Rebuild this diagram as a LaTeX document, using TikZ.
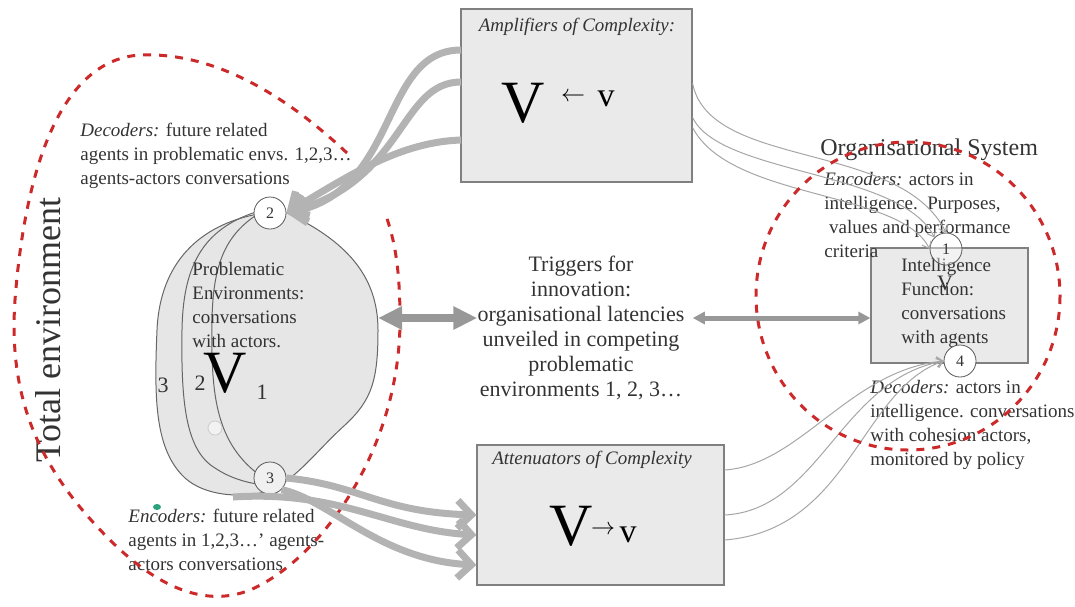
\documentclass[tikz,border=0pt]{standalone}
\usepackage{fontspec}
\setmainfont{Liberation Serif}
\usepackage{xcolor}
\usepackage{tikz}
\usetikzlibrary{arrows.meta}
\definecolor{boxfill}{HTML}{EAEAEA}
\definecolor{blobfill}{HTML}{E6E6E6}
\definecolor{boxline}{HTML}{808080}
\definecolor{flow}{HTML}{B3B3B3}
\definecolor{envred}{HTML}{CC2A2A}
\definecolor{inkgray}{HTML}{333333}
\definecolor{dotgreen}{HTML}{2BA37F}
\newcommand{\fs}[1]{\fontsize{#1}{#1}\selectfont}

\begin{document}
\begin{tikzpicture}[x=0.5pt,y=-0.5pt,
    txt/.style={inner sep=0pt,align=left,text=inkgray,font=\fontsize{9.5}{12}\selectfont},
    cbox/.style={draw=boxline,fill=boxfill,line width=0.6pt},
    numc/.style={circle,draw=black!65,fill=white,minimum size=16pt,inner sep=0pt,text=inkgray,font=\fs{8}},
    envline/.style={draw=envred,line width=1.5pt,dash pattern=on 4pt off 4pt},
    blobline/.style={draw=black!60,line width=0.5pt},
    thickflow/.style={draw=flow,line width=3.5pt,-{Straight Barb[length=7pt,width=14pt]}},
    thinflow/.style={draw=black!35,line width=0.5pt,-{Straight Barb[length=3pt,width=5pt]}}]
\useasboundingbox (0,0) rectangle (1075,606);

\filldraw[fill=blobfill,blobline] (258,214) .. controls (200,225) and (160,262) .. (157,330)
  .. controls (154,400) and (155,450) .. (185,478) .. controls (205,496) and (240,498) .. (265,492)
  .. controls (295,482) and (315,452) .. (345,425) .. controls (372,400) and (378,380) .. (378,330)
  .. controls (378,275) and (345,240) .. (285,212) -- cycle;
\draw[blobline] (256,212) .. controls (200,230) and (183,270) .. (182,330)
  .. controls (181,400) and (185,450) .. (215,468) .. controls (230,478) and (245,482) .. (257,484);
\draw[blobline] (258,214) .. controls (225,235) and (213,265) .. (212,320)
  .. controls (211,390) and (214,440) .. (258,474);
\draw[draw=black!20,fill=blobfill!50!white] (215,428) circle[radius=7];

\node[txt,anchor=north west] (probenv) at (192,262) {Problematic\\Environments:\\conversations\\with actors.};
\node[inner sep=0pt,font=\fs{30}] (bigV) at (225,373) {V};
\node[text=inkgray,font=\fs{11}] (lobe3) at (163,385) {3};
\node[text=inkgray,font=\fs{11}] (lobe2) at (200,383) {2};
\node[text=inkgray,font=\fs{11}] (lobe1) at (262,392) {1};
\node[numc] (c2) at (270,213) {2};
\node[numc,fill=blobfill!60!white] (c3) at (270,478) {3};

\node[txt,anchor=north west] (pdec) at (80,123) {\textit{Decoders:} future related\\agents in problematic envs. 1,2,3…\\agents-actors conversations};
\node[txt,anchor=north west] (penc) at (128,509) {\textit{Encoders:} future related\\agents in 1,2,3…’ agents-\\actors conversations};
\fill[dotgreen] (157,507) ellipse[x radius=4,y radius=3];
\node[rotate=90,text=inkgray,font=\fs{18}] (total) at (48,330) {Total environment};

\draw[envline] (347,153) .. controls (280,90) and (210,52) .. (140,55)
  .. controls (60,60) and (25,170) .. (15,300) .. controls (8,400) and (40,470) .. (110,540)
  .. controls (150,580) and (200,610) .. (250,590) .. controls (320,560) and (400,450) .. (400,320)
  .. controls (400,270) and (395,240) .. (385,213);

\node[cbox,minimum width=115.5pt,minimum height=86.5pt] (amp) at (576.5,95.5) {};
\node[txt,font=\fontsize{9.5}{12}\selectfont\itshape] (amplbl) at (577,27) {Amplifiers of Complexity:};
\node[inner sep=0pt,font=\fs{30}] (ampV) at (523,103) {V};
\node[inner sep=0pt,font=\fs{12}] (ampar) at (573,97) {$\leftarrow$};
\node[inner sep=0pt,font=\fs{17}] (ampv) at (606,99) {v};

\node[cbox,minimum width=123.5pt,minimum height=70pt] (att) at (600.5,515) {};
\node[txt,font=\fontsize{9.5}{12}\selectfont\itshape] (attlbl) at (592,460) {Attenuators of Complexity};
\node[inner sep=0pt,font=\fs{30}] (attV) at (571,526) {V};
\node[inner sep=0pt,font=\fs{12}] (attar) at (603,530) {$\rightarrow$};
\node[inner sep=0pt,font=\fs{17}] (attv) at (628,535) {v};

\node[txt,align=center,font=\fontsize{11}{12.5}\selectfont] (trig) at (581,328) {Triggers for\\innovation:\\organisational latencies\\unveiled in competing\\problematic\\environments 1, 2, 3…};

\node[cbox,minimum width=78.5pt,minimum height=57.5pt] (intel) at (949.5,305.5) {};
\node[txt,anchor=north west] (intlbl) at (901,258) {Intelligence\\Function:\\conversations\\with agents};
\node[inner sep=0pt,text=inkgray,font=\fs{11}] (intV) at (945,283) {V};
\node[txt,anchor=north west] (ienc) at (824,172) {\textit{Encoders:} actors in\\intelligence.\ \ Purposes,\\\ values and performance\\criteria};
\node[txt,anchor=north west] (idec) at (870,380) {\textit{Decoders:} actors in\\intelligence. conversations\\with cohesion actors,\\monitored by policy};
\node[inner sep=0pt,anchor=west,text=inkgray,font=\fs{12}] (orglbl) at (820,150) {Organisational System};
\node[numc,fill=white,fill opacity=0.4,text opacity=1] (c1) at (946,249) {1};
\node[numc] (c4) at (960,361) {4};

\coordinate (peast) at (378,318);
\draw[draw=flow!85!black,line width=4pt,{Triangle[length=12pt,width=11pt]}-{Triangle[length=12pt,width=11pt]}] (peast) -- (peast -| trig.west);
\draw[draw=flow!85!black,line width=2.5pt,{Triangle[length=6pt,width=6pt]}-{Triangle[length=6pt,width=6pt]}] ([xshift=4pt]trig.east |- peast) -- (peast -| intel.west);

\coordinate (aw1) at (461,50);
\coordinate (aw2) at (461,82);
\coordinate (aw3) at (461,140);
\draw[thickflow] (aw1) .. controls (380,50) and (400,190) .. (c2.east);
\draw[thickflow] (aw2) .. controls (400,82) and (405,180) .. (c2.east);
\draw[thickflow] (aw3) .. controls (400,142) and (350,175) .. (c2.east);

\coordinate (bl) at (233,497);
\draw[thickflow] (c3.east) .. controls (360,485) and (380,512) .. (att.west);
\draw[thickflow] (bl) .. controls (340,490) and (390,530) .. ([yshift=-10pt]att.west);
\draw[thickflow] (c3.south east) .. controls (330,500) and (380,560) .. ([yshift=-25pt]att.west);

\draw[thinflow] ([yshift=6pt]amp.east) .. controls (710,170) and (900,140) .. (c1.north);
\draw[thinflow] ([yshift=-11pt]amp.east) .. controls (720,175) and (900,170) .. (c1.north west);
\draw[thinflow] ([yshift=-16pt]amp.east) .. controls (730,200) and (900,190) .. (c1.west);

\draw[thinflow] ([yshift=22.5pt]att.east) .. controls (800,465) and (850,370) .. (c4.west);
\draw[thinflow] (att.east) .. controls (820,510) and (840,380) .. (c4.west);
\draw[thinflow] ([yshift=-12.5pt]att.east) .. controls (850,530) and (860,390) .. (c4.west);

\draw[envline] (908,296) ellipse[x radius=152,y radius=154];
\end{tikzpicture}
\end{document}
